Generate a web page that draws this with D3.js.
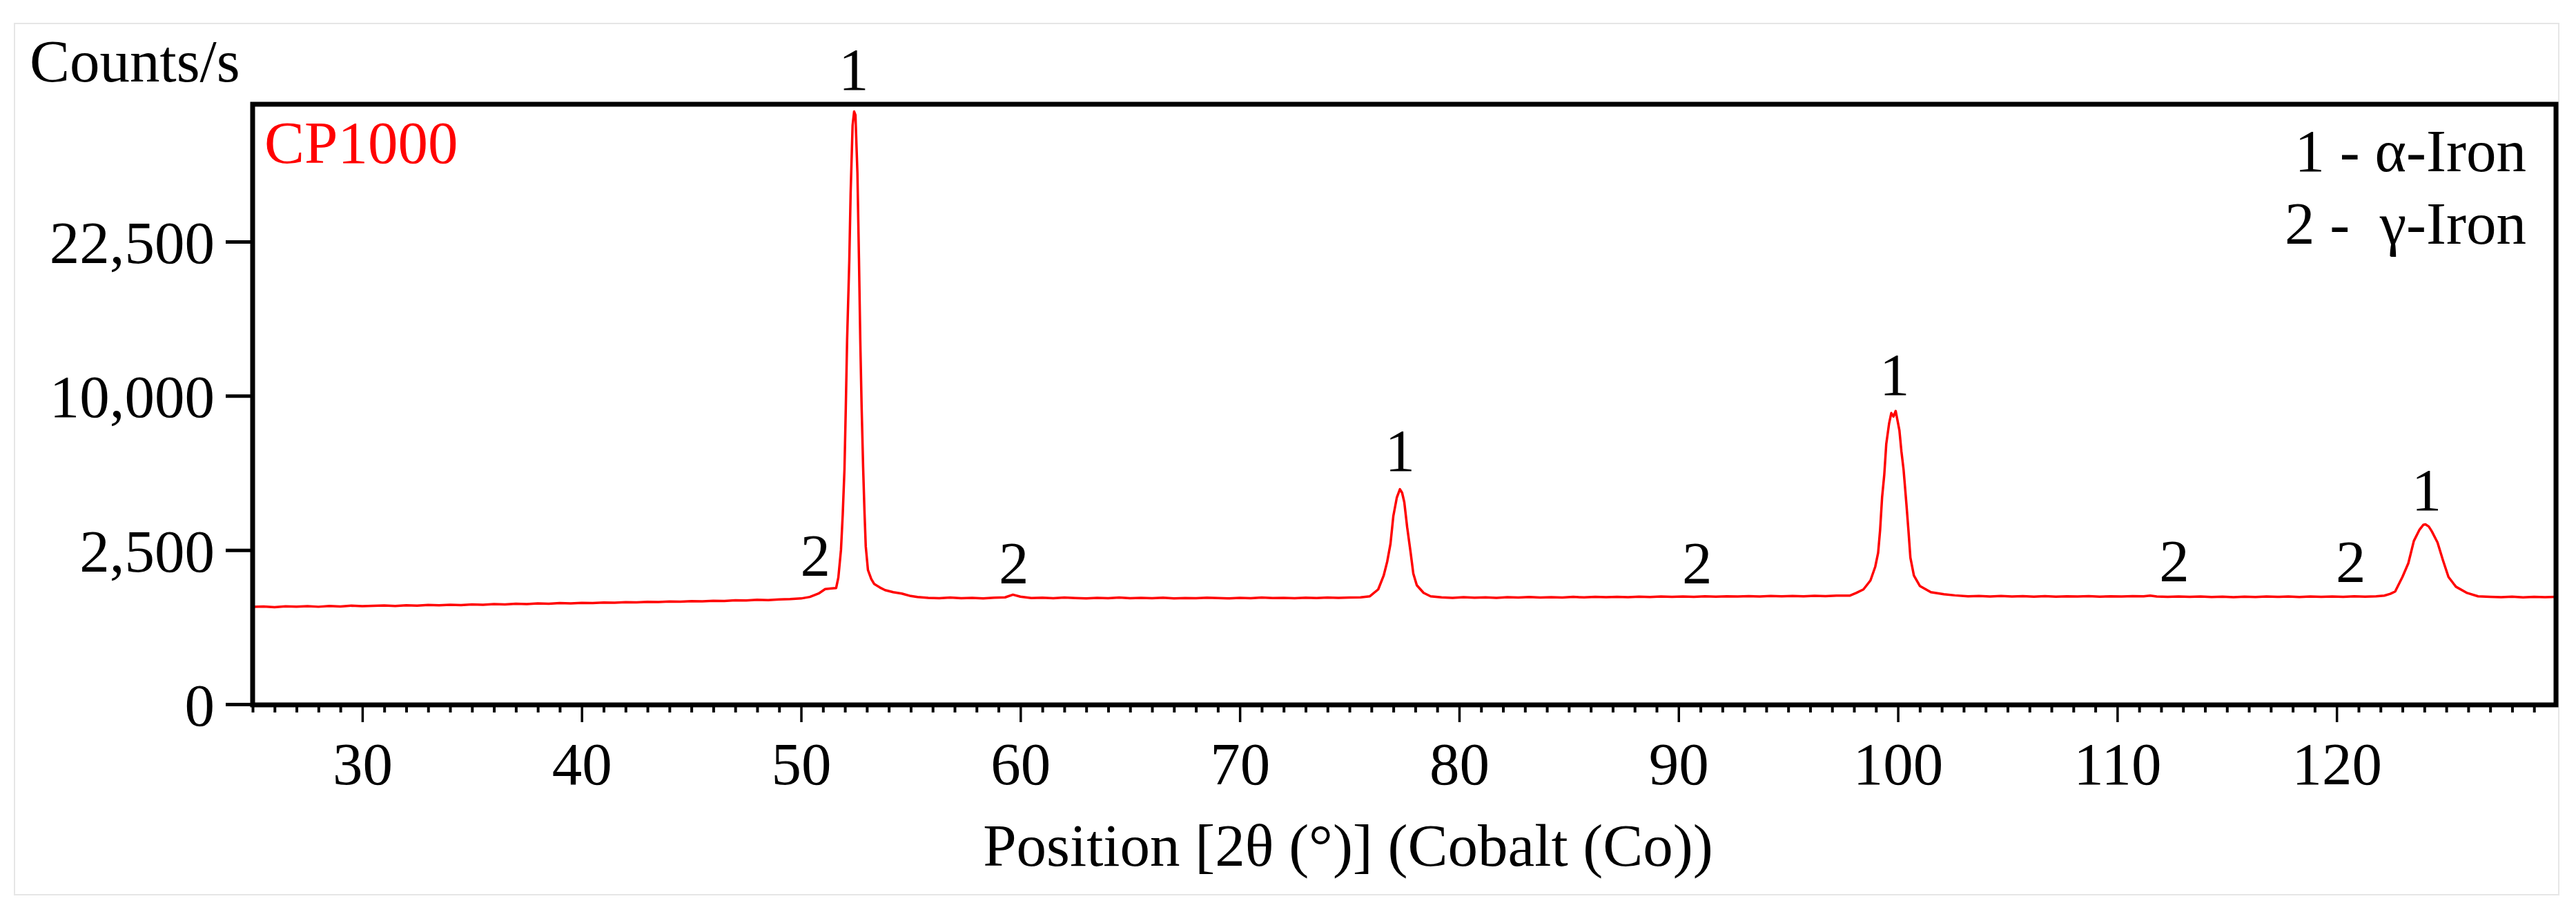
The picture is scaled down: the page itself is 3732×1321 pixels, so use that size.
<!DOCTYPE html>
<html>
<head>
<meta charset="utf-8">
<script src="https://cdn.jsdelivr.net/npm/d3@7"></script>
<style>
  html, body { margin: 0; padding: 0; background: #fff; }
  svg { display: block; }
  text { font-family: "Liberation Serif", "Times New Roman", serif; }
</style>
</head>
<body>
<svg id="chart" width="3732" height="1321"></svg>
<script>
// ---- data ----
const twoTheta = [
  25.0,25.5,26.0,26.5,27.0,27.5,28.0,28.5,29.0,29.5,30.0,30.5,31.0,31.5,32.0,32.5,33.0,33.5,34.0,34.5,
  35.0,35.5,36.0,36.5,37.0,37.5,38.0,38.5,39.0,39.5,40.0,40.5,41.0,41.5,42.0,42.5,43.0,43.5,44.0,44.5,
  45.0,45.5,46.0,46.5,47.0,47.5,48.0,48.5,49.0,49.5,50.0,50.4,50.8,51.1,51.4,51.6,51.7,51.82,51.9,51.98,
  52.04,52.1,52.2,52.26,52.35,52.42,52.48,52.57,52.64,52.7,52.76,52.83,52.89,52.95,53.05,53.2,53.33,53.6,53.83,54.2,
  54.59,55.0,55.31,55.8,56.3,56.8,57.3,57.8,58.3,58.8,59.3,59.66,60.0,60.5,61.0,61.5,62.0,62.5,63.0,63.5,
  64.0,64.5,65.0,65.5,66.0,66.5,67.0,67.5,68.0,68.5,69.0,69.5,70.0,70.5,71.0,71.5,72.0,72.5,73.0,73.5,
  74.0,74.5,75.0,75.5,75.93,76.31,76.56,76.72,76.87,77.0,77.16,77.3,77.4,77.5,77.63,77.79,77.91,78.07,78.38,78.7,
  79.2,79.7,80.2,80.7,81.2,81.7,82.2,82.7,83.2,83.7,84.2,84.7,85.2,85.7,86.2,86.7,87.2,87.7,88.2,88.7,
  89.2,89.7,90.2,90.7,91.2,91.7,92.2,92.7,93.2,93.7,94.2,94.7,95.2,95.7,96.2,96.7,97.2,97.8,98.1,98.43,
  98.75,98.97,99.1,99.19,99.28,99.38,99.47,99.6,99.7,99.8,99.9,100.07,100.16,100.26,100.39,100.48,100.57,100.73,101.0,101.5,
  102.1,102.6,103.2,103.7,104.2,104.7,105.2,105.7,106.2,106.7,107.2,107.7,108.2,108.7,109.2,109.7,110.2,110.7,111.2,111.5,
  111.8,112.3,112.8,113.3,113.8,114.3,114.8,115.3,115.8,116.3,116.8,117.3,117.8,118.3,118.8,119.3,119.8,120.3,120.8,121.3,
  121.8,122.17,122.45,122.67,123.0,123.27,123.52,123.77,123.95,124.05,124.2,124.34,124.6,124.85,125.1,125.44,125.95,126.45,127.0,127.5,
  128.0,128.5,129.0,129.5,130.0
];
const counts = [
  995,1003,990,1008,1000,1012,998,1015,1005,1020,1010,1018,1025,1015,1030,1022,1035,1028,1040,1032,
  1045,1040,1052,1045,1060,1055,1068,1060,1075,1068,1080,1075,1088,1082,1095,1090,1102,1098,1110,1105,
  1118,1112,1125,1120,1135,1130,1145,1140,1155,1160,1175,1210,1287,1393,1410,1419,1684,2500,3775,5810,
  9250,13950,20720,27450,35220,36930,36500,29650,20910,13950,9380,5915,3940,2612,1892,1650,1522,1430,1369,1320,
  1287,1230,1208,1190,1182,1195,1180,1188,1178,1192,1200,1261,1215,1185,1192,1180,1195,1185,1178,1190,
  1182,1195,1180,1188,1182,1192,1178,1186,1180,1192,1184,1178,1190,1182,1195,1185,1190,1180,1192,1185,
  1195,1188,1195,1200,1224,1385,1739,2134,2705,3720,4494,4860,4700,4287,3295,2411,1796,1487,1303,1224,
  1200,1190,1205,1192,1200,1188,1202,1195,1208,1195,1205,1198,1210,1200,1212,1202,1210,1205,1215,1208,
  1218,1210,1220,1212,1222,1215,1225,1218,1226,1220,1230,1222,1232,1225,1235,1228,1238,1239,1300,1385,
  1610,1990,2411,3192,4494,5540,7110,8285,8910,8700,9040,7880,6730,5780,4200,3190,2260,1740,1470,1320,
  1272,1245,1224,1232,1220,1230,1218,1228,1216,1226,1215,1225,1218,1228,1215,1224,1218,1226,1222,1240,
  1218,1212,1220,1210,1218,1208,1216,1205,1215,1208,1220,1210,1218,1206,1218,1210,1220,1212,1222,1214,
  1225,1239,1280,1336,1702,2090,2800,3190,3380,3400,3320,3140,2750,2175,1700,1450,1300,1224,1212,1205,
  1215,1200,1212,1205,1210
];

const xTickValues = [30, 40, 50, 60, 70, 80, 90, 100, 110, 120];
const xMinorTickValues = d3.range(25, 131, 1).filter(v => v % 10 !== 0);
const yTickValues = [0, 2500, 10000, 22500];
const yTickLabels = ["0", "2,500", "10,000", "22,500"];

const peakLabelText   = ["1", "2", "2", "1", "2", "1", "2", "2", "1"];
const peakLabelPos    = [52.4, 50.65, 59.7, 77.3, 90.85, 99.85, 112.6, 120.65, 124.1];
const peakLabelCounts = [39700, 1734, 1535, 5725, 1535, 10060, 1588, 1570, 3957];

const legendLines = ["1 - \u03b1-Iron", "2 -  \u03b3-Iron"];
const sampleName = "CP1000";
const yTitle = "Counts/s";
const xTitle = "Position [2\u03b8 (\u00b0)] (Cobalt (Co))";

// ---- layout ----
const FS = 87;
const plot = { left: 366, right: 3703, top: 151, bottom: 1021 };

const svg = d3.select("#chart");
svg.append("rect").attr("x", 0).attr("y", 0).attr("width", 3732).attr("height", 1321).attr("fill", "#fff");
// light outer border
svg.append("rect").attr("x", 21).attr("y", 34).attr("width", 3686).attr("height", 1262)
  .attr("fill", "none").attr("stroke", "#e6e6e6").attr("stroke-width", 2);

const x = d3.scaleLinear().domain([25, 130]).range([plot.left, plot.right]);
const y = d3.scaleSqrt().domain([0, 37840]).range([plot.bottom - 1, plot.top]);

// data line
const pts = twoTheta.map((t, i) => [t, counts[i]]);
const clipId = "plotclip";
svg.append("clipPath").attr("id", clipId).append("rect")
  .attr("x", plot.left).attr("y", plot.top).attr("width", plot.right - plot.left).attr("height", plot.bottom - plot.top);
svg.append("path")
  .datum(pts)
  .attr("clip-path", `url(#${clipId})`)
  .attr("fill", "none")
  .attr("stroke", "#ff0000")
  .attr("stroke-width", 3.5)
  .attr("stroke-linejoin", "round")
  .attr("d", d3.line().x(d => x(d[0])).y(d => y(d[1])));

// frame
svg.append("rect")
  .attr("x", plot.left).attr("y", plot.top)
  .attr("width", plot.right - plot.left).attr("height", plot.bottom - plot.top)
  .attr("fill", "none").attr("stroke", "#000").attr("stroke-width", 7);

// y axis
const yAxis = d3.axisLeft(y).tickValues(yTickValues)
  .tickFormat((d, i) => yTickLabels[i]).tickSize(39).tickPadding(16);
const gy = svg.append("g").attr("transform", `translate(${plot.left},0)`).call(yAxis);
gy.select(".domain").remove();
gy.selectAll(".tick line").attr("stroke", "#000").attr("stroke-width", 5);
gy.selectAll(".tick text").attr("fill", "#000").style("font-size", FS + "px")
  .style("font-family", '"Liberation Serif", "Times New Roman", serif').attr("dy", "0.35em");

// x axis minor ticks
const xMinor = d3.axisBottom(x).tickValues(xMinorTickValues).tickSize(11).tickFormat("");
const gxm = svg.append("g").attr("transform", `translate(0,${plot.bottom})`).call(xMinor);
gxm.select(".domain").remove();
gxm.selectAll(".tick line").attr("stroke", "#000").attr("stroke-width", 4);

// x axis major ticks
const xAxis = d3.axisBottom(x).tickValues(xTickValues).tickFormat(d3.format("d")).tickSize(25).tickPadding(28);
const gx = svg.append("g").attr("transform", `translate(0,${plot.bottom})`).call(xAxis);
gx.select(".domain").remove();
gx.selectAll(".tick line").attr("stroke", "#000").attr("stroke-width", 3.5);
gx.selectAll(".tick text").attr("fill", "#000").style("font-size", FS + "px")
  .style("font-family", '"Liberation Serif", "Times New Roman", serif');

// titles
svg.append("text").attr("x", 43).attr("y", 118).attr("font-size", FS).attr("fill", "#000").text(yTitle);
svg.append("text").attr("x", 1953).attr("y", 1254).attr("text-anchor", "middle")
  .attr("font-size", FS).attr("fill", "#000").text(xTitle);

// sample name
svg.append("text").attr("x", 383).attr("y", 236).attr("font-size", FS).attr("fill", "#ff0000").text(sampleName);

// legend
svg.selectAll("text.legend").data(legendLines).enter().append("text")
  .attr("class", "legend")
  .attr("x", 3660).attr("y", (d, i) => 248 + i * 105)
  .attr("text-anchor", "end").attr("font-size", FS).attr("fill", "#000")
  .style("white-space", "pre")
  .text(d => d);

// peak labels
svg.selectAll("text.peak").data(peakLabelText).enter().append("text")
  .attr("class", "peak")
  .attr("x", (d, i) => x(peakLabelPos[i]))
  .attr("y", (d, i) => y(peakLabelCounts[i]))
  .attr("text-anchor", "middle").attr("font-size", FS).attr("fill", "#000")
  .text(d => d);
</script>
</body>
</html>
